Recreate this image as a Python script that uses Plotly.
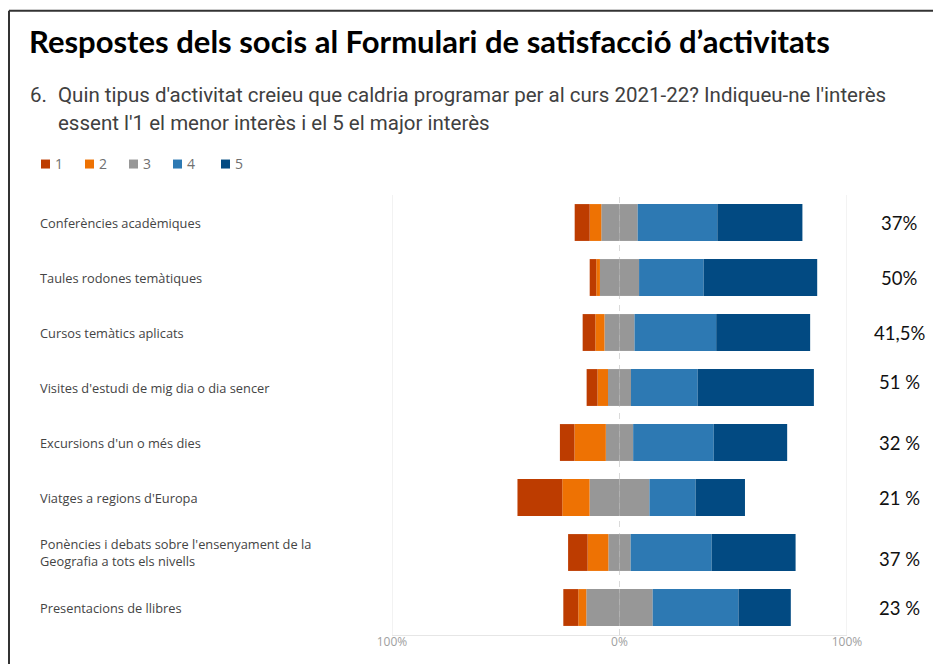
import plotly.graph_objects as go

# ---------------- data ----------------
categories = [
    "Conferències acadèmiques",
    "Taules rodones temàtiques",
    "Cursos temàtics aplicats",
    "Visites d'estudi de mig dia o dia sencer",
    "Excursions d'un o més dies",
    "Viatges a regions d'Europa",
    "Ponències i debats sobre l'ensenyament de la<br>Geografia a tots els nivells",
    "Presentacions de llibres",
]
score1 = [6.6, 2.9, 5.6, 4.8, 6.4, 19.7, 8.6, 6.6]
score2 = [5.1, 1.6, 4.0, 4.6, 13.8, 12.0, 9.1, 3.5]
score3 = [16.0, 17.2, 13.2, 10.1, 12.0, 26.3, 9.8, 29.2]
score4 = [35.0, 28.4, 35.9, 29.3, 35.4, 20.3, 35.6, 37.7]
score5 = [37.4, 49.9, 41.3, 51.1, 32.3, 21.7, 36.9, 23.0]
right_labels = ["37%", "50%", "41,5%", "51 %", "32 %", "21 %", "37 %", "23 %"]
tick_vals = [-100, 0, 100]
tick_text = ["100%", "0%", "100%"]
legend_names = ["1", "2", "3", "4", "5"]

title_text = "Respostes dels socis al Formulari de satisfacció d’activitats"
question_num = "6."
question_lines = [
    "Quin tipus d'activitat creieu que caldria programar per al curs 2021-22? Indiqueu-ne l'interès",
    "essent l'1 el menor interès i el 5 el major interès",
]

# ---------------- styles / layout ----------------
colors = ["#BD3C00", "#EE7203", "#979797", "#2D79B3", "#024A82"]
label_yshift = [0, 0, 0, 6, 0, 0, -6, 0]
legend_sq_x = [41, 85, 129, 173, 221]   # screen px, left edge of legend squares
question_line_y = [94, 122]

OFF = 8                 # page body margin
W, H = 941 - OFF, 664 - OFF
L, R = 392 - OFF, 847 - OFF        # plot area left/right (figure px)
T, B = 194.5 - OFF, 635 - OFF      # plot area top/bottom (figure px)


def px(xs):
    """screen x -> paper x"""
    return (xs - OFF - L) / (R - L)


def py(ys):
    """screen y -> paper y"""
    return (B - (ys - OFF)) / (B - T)


half3 = [v / 2 for v in score3]

fig = go.Figure()
# negative side (stacks outward from zero in trace order)
fig.add_bar(y=categories, x=[-v for v in half3], orientation="h", name=legend_names[2],
            marker=dict(color=colors[2], line=dict(width=0)))
fig.add_bar(y=categories, x=[-v for v in score2], orientation="h", name=legend_names[1],
            marker=dict(color=colors[1], line=dict(width=0)))
fig.add_bar(y=categories, x=[-v for v in score1], orientation="h", name=legend_names[0],
            marker=dict(color=colors[0], line=dict(width=0)))
# positive side
fig.add_bar(y=categories, x=half3, orientation="h", name=legend_names[2],
            marker=dict(color=colors[2], line=dict(width=0)))
fig.add_bar(y=categories, x=score4, orientation="h", name=legend_names[3],
            marker=dict(color=colors[3], line=dict(width=0)))
fig.add_bar(y=categories, x=score5, orientation="h", name=legend_names[4],
            marker=dict(color=colors[4], line=dict(width=0)))

shapes = [
    dict(type="line", xref="x", yref="paper", x0=-100, x1=-100, y0=0, y1=1,
         line=dict(color="#E6E6E6", width=1), layer="below"),
    dict(type="line", xref="x", yref="paper", x0=100, x1=100, y0=0, y1=1,
         line=dict(color="#E6E6E6", width=1), layer="below"),
    dict(type="line", xref="x", yref="paper", x0=0, x1=0, y0=0, y1=1,
         line=dict(color="#DADADA", width=1, dash="6px,6px"), layer="below"),
    # frame (left + top)
    dict(type="line", xref="paper", yref="paper", x0=px(9), x1=px(9), y0=py(10), y1=py(700),
         line=dict(color="#333333", width=2)),
    dict(type="line", xref="paper", yref="paper", x0=px(9), x1=px(960), y0=py(10), y1=py(10),
         line=dict(color="#333333", width=2)),
]

annotations = [
    dict(text="<b>" + title_text + "</b>", xref="paper", yref="paper", x=px(27), y=py(40),
         xanchor="left", yanchor="middle", showarrow=False,
         font=dict(family="Lato", size=31, color="#000000")),
    dict(text=question_num, xref="paper", yref="paper", x=px(28), y=py(question_line_y[0]),
         xanchor="left", yanchor="middle", showarrow=False,
         font=dict(family="Roboto", size=20.5, color="#404040")),
]
for line, ly in zip(question_lines, question_line_y):
    annotations.append(dict(text=line, xref="paper", yref="paper", x=px(56), y=py(ly),
                            xanchor="left", yanchor="middle", showarrow=False,
                            font=dict(family="Roboto", size=20.5, color="#404040")))

# custom legend (squares + labels)
for name, c, sx in zip(legend_names, colors, legend_sq_x):
    shapes.append(dict(type="rect", xref="paper", yref="paper",
                       x0=px(sx), x1=px(sx + 9), y0=py(159), y1=py(168),
                       fillcolor=c, line=dict(width=0)))
    annotations.append(dict(text=name, xref="paper", yref="paper", x=px(sx + 12), y=py(163),
                            xanchor="left", yanchor="middle", showarrow=False,
                            font=dict(family="Open Sans", size=14, color="#707070")))

for cat, lab, ys in zip(categories, right_labels, label_yshift):
    annotations.append(dict(text=cat, xref="paper", yref="y", x=px(38), y=cat,
                            xanchor="left", yanchor="middle", align="left", showarrow=False,
                            font=dict(family="Open Sans", size=12.8, color="#444444")))
    annotations.append(dict(text=lab, xref="paper", yref="y", x=px(899), y=cat, yshift=ys,
                            xanchor="center", yanchor="middle", showarrow=False,
                            font=dict(family="Lato", size=18.5, color="#111111")))

fig.update_layout(
    width=W, height=H,
    margin=dict(l=L, r=W - R, t=T, b=H - B, pad=0),
    paper_bgcolor="white", plot_bgcolor="white",
    barmode="relative", bargap=0.33,
    showlegend=False,
    xaxis=dict(range=[-100, 100], tickvals=tick_vals, ticktext=tick_text, showgrid=False,
               zeroline=False, showline=True, linecolor="#E6E6E6", linewidth=1,
               ticklabelstandoff=-4,
               tickfont=dict(family="Open Sans", size=12, color="#A0A0A0"), fixedrange=True),
    yaxis=dict(categoryorder="array", categoryarray=categories, autorange="reversed",
               showticklabels=False, showgrid=False, zeroline=False, fixedrange=True),
    shapes=shapes,
    annotations=annotations,
)

fig.write_html("out.html", config={"displayModeBar": False})
